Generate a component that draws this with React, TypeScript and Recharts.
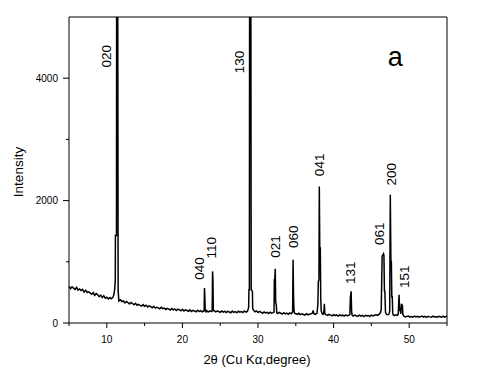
import React from "react";
import {
  ComposedChart,
  Line,
  Scatter,
  XAxis,
  YAxis,
  ReferenceLine,
} from "recharts";

// XRD scan, [2θ, intensity], split by region
const scanLowAngle: [number, number][] = [
  [5.0, 600], [5.2, 560], [5.4, 592], [5.6, 570], [5.8, 548], [6.0, 582], [6.2, 536],
  [6.4, 556], [6.6, 530], [6.8, 548], [7.0, 505], [7.2, 536], [7.4, 498], [7.6, 510],
  [7.8, 492], [8.0, 470], [8.2, 498], [8.4, 452], [8.6, 480], [8.8, 462], [9.0, 430],
  [9.2, 456], [9.4, 418], [9.6, 446], [9.8, 405], [10.0, 420], [10.2, 392], [10.4, 415],
  [10.6, 396], [10.8, 418], [10.95, 470], [11.05, 560], [11.12, 700],
];

const peak020: [number, number][] = [
  [11.14, 1430], [11.28, 1430], [11.31, 7000], [11.43, 7000], [11.5, 520], [11.6, 360],
];

const scanMid: [number, number][] = [
  [11.8, 380], [12.0, 350], [12.2, 360], [12.4, 328], [12.6, 352], [12.8, 334], [13.0, 310],
  [13.2, 336], [13.4, 318], [13.6, 298], [13.8, 322], [14.0, 290], [14.2, 304], [14.4, 288],
  [14.6, 276], [14.8, 300], [15.0, 272], [15.2, 290], [15.4, 262], [15.6, 280], [15.8, 268],
  [16.0, 250], [16.2, 272], [16.4, 244], [16.6, 258], [16.8, 248], [17.0, 232], [17.2, 256],
  [17.4, 234], [17.6, 244], [17.8, 222], [18.0, 240], [18.2, 226], [18.4, 212], [18.6, 238],
  [18.8, 216], [19.0, 228], [19.2, 206], [19.4, 226], [19.6, 214], [19.8, 200], [20.0, 224],
  [20.2, 198], [20.4, 216], [20.6, 204], [20.8, 192], [21.0, 214], [21.2, 188], [21.4, 206],
  [21.6, 196], [21.8, 184], [22.0, 208], [22.2, 186], [22.4, 202], [22.6, 182], [22.8, 196],
  [22.88, 200], [22.92, 571], [22.97, 420], [23.02, 200], [23.1, 184],
  [23.2, 204], [23.4, 180], [23.6, 198], [23.8, 186],
  [23.94, 200], [23.99, 843], [24.04, 707], [24.09, 200],
  [24.2, 204], [24.4, 182], [24.6, 196], [24.8, 188], [25.0, 174], [25.2, 198], [25.4, 178],
  [25.6, 192], [25.8, 170], [26.0, 190], [26.2, 180], [26.4, 168], [26.6, 194], [26.8, 174],
  [27.0, 186], [27.2, 168], [27.4, 192], [27.6, 176], [27.8, 186], [28.0, 170], [28.2, 196],
  [28.4, 178], [28.6, 190], [28.76, 250],
];

const peak130: [number, number][] = [
  [28.8, 544], [28.86, 544], [28.9, 7000], [29.04, 7000], [29.1, 544], [29.26, 520], [29.3, 240],
];

const scanHighAngle: [number, number][] = [
  [29.4, 210], [29.6, 184], [29.8, 198], [30.0, 172], [30.2, 190], [30.4, 176], [30.6, 160],
  [30.8, 180], [31.0, 164], [31.2, 174], [31.4, 156], [31.6, 178], [31.8, 162], [32.0, 170],
  [32.12, 180], [32.16, 707], [32.22, 707], [32.28, 887], [32.34, 330], [32.42, 300], [32.48, 170],
  [32.6, 154], [32.8, 172], [33.0, 160], [33.2, 146], [33.4, 168], [33.6, 150], [33.8, 162],
  [34.0, 144], [34.2, 164], [34.4, 150], [34.58, 180], [34.64, 1034], [34.7, 430], [34.76, 200],
  [34.84, 160], [35.0, 150], [35.2, 140], [35.4, 158], [35.6, 136], [35.8, 150], [36.0, 140],
  [36.2, 130], [36.4, 152], [36.6, 134], [36.8, 144], [37.0, 150], [37.2, 160], [37.3, 205],
  [37.4, 150], [37.6, 140], [37.8, 160], [37.92, 300],
  [37.98, 680], [38.06, 700], [38.11, 2230], [38.17, 1224], [38.24, 1224], [38.3, 400],
  [38.36, 200], [38.5, 150], [38.6, 140], [38.7, 160], [38.78, 315], [38.84, 150],
  [39.0, 136], [39.2, 124], [39.4, 142], [39.6, 128], [39.8, 118], [40.0, 138], [40.2, 122],
  [40.4, 132], [40.6, 114], [40.8, 134], [41.0, 120], [41.2, 128], [41.4, 112], [41.6, 132],
  [41.8, 118], [42.0, 126], [42.15, 140], [42.22, 420], [42.28, 480], [42.32, 517],
  [42.38, 200], [42.44, 130], [42.6, 114], [42.8, 130], [43.0, 118], [43.2, 108], [43.4, 128],
  [43.6, 112], [43.8, 124], [44.0, 106], [44.2, 126], [44.4, 114], [44.6, 122], [44.8, 108],
  [45.0, 128], [45.2, 116], [45.4, 126], [45.6, 134], [45.8, 124], [46.0, 140], [46.2, 170],
  [46.3, 220], [46.42, 1090], [46.5, 1110], [46.6, 1131], [46.66, 1100], [46.72, 525],
  [46.78, 520], [46.86, 180], [47.0, 140], [47.2, 135], [47.35, 150], [47.42, 200],
  [47.5, 2095], [47.58, 1006], [47.64, 1006], [47.7, 430], [47.76, 430], [47.82, 160],
  [47.9, 130], [48.0, 120], [48.2, 135], [48.4, 125], [48.55, 140], [48.6, 300], [48.66, 462],
  [48.72, 200], [48.8, 220], [48.9, 150], [48.96, 315], [49.04, 240], [49.1, 300], [49.16, 140],
  [49.3, 112], [49.5, 98], [49.7, 108], [49.9, 114], [50.1, 96], [50.3, 106], [50.5, 94],
  [50.7, 112], [50.9, 100], [51.1, 110], [51.3, 94], [51.5, 104], [51.7, 114], [51.9, 96],
  [52.1, 108], [52.3, 92], [52.5, 110], [52.7, 100], [52.9, 94], [53.1, 112], [53.3, 98],
  [53.5, 106], [53.7, 92], [53.9, 110], [54.1, 102], [54.3, 94], [54.5, 112], [54.7, 96],
  [54.9, 108], [55.0, 100],
];

// Miller indices and where their labels sit (2θ, intensity at label centre)
const peakIndices = ["020", "130", "040", "110", "021", "060", "041", "131", "061", "200", "151"];
const labelAngles = [9.95, 27.62, 22.31, 23.91, 32.32, 34.68, 38.08, 42.25, 46.09, 47.66, 49.4];
const labelHeights = [4360, 4266, 889, 1230, 1251, 1409, 2584, 821, 1458, 2429, 756];

const xTicks = [5, 10, 15, 20, 25, 30, 35, 40, 45, 50, 55];
const yTicks = [0, 1000, 2000, 3000, 4000];

const FONT = "'Liberation Sans', Arial, sans-serif";

const scan = [...scanLowAngle, ...peak020, ...scanMid, ...peak130, ...scanHighAngle].map(
  ([t, v]) => ({ t, v })
);
const labels = peakIndices.map((name, i) => ({ t: labelAngles[i], v: labelHeights[i], name }));
const panelTag = [{ t: 48.17, v: 4201, name: "a" }];

function XTick({ x, y, payload }: any) {
  const major = payload.value % 10 === 0;
  return (
    <g>
      <line x1={x} y1={y} x2={x} y2={y + (major ? 5 : 3)} stroke="#000" />
      {major && (
        <text x={x} y={y + 20} textAnchor="middle" fontSize={10} fontFamily={FONT} fill="#000">
          {payload.value}
        </text>
      )}
    </g>
  );
}

function YTick({ x, y, payload }: any) {
  const major = payload.value % 2000 === 0;
  return (
    <g>
      <line x1={x} y1={y} x2={x - (major ? 6 : 3)} y2={y} stroke="#000" />
      {major && (
        <text x={x - 11} y={y + 3.5} textAnchor="end" fontSize={10} fontFamily={FONT} fill="#000">
          {payload.value}
        </text>
      )}
    </g>
  );
}

export default function App() {
  return (
    <div style={{ position: "absolute", left: 0, top: 0, width: 500, height: 380, background: "#fff" }}>
      <ComposedChart
        width={500}
        height={380}
        data={scan}
        margin={{ top: 17, right: 53, bottom: 0, left: 0 }}
      >
        <XAxis
          dataKey="t"
          type="number"
          domain={[5, 55]}
          ticks={xTicks}
          interval={0}
          height={57}
          tickSize={0}
          tickMargin={0}
          tickLine={false}
          tick={<XTick />}
          axisLine={{ stroke: "#000" }}
          label={{
            content: ({ viewBox }: any) => (
              <text
                x={viewBox.x + viewBox.width / 2 - 1}
                y={viewBox.y + 41}
                textAnchor="middle"
                fontSize={13}
                fontFamily={FONT}
                fill="#000"
              >
                2θ (Cu Kα,degree)
              </text>
            ),
          }}
        />
        <YAxis
          type="number"
          domain={[0, 5000]}
          allowDataOverflow
          ticks={yTicks}
          interval={0}
          width={69}
          tickSize={0}
          tickMargin={0}
          tickLine={false}
          tick={<YTick />}
          axisLine={{ stroke: "#000" }}
          label={{
            content: ({ viewBox }: any) => {
              const cx = 18.5;
              const cy = viewBox.y + viewBox.height / 2 + 2;
              return (
                <text
                  x={cx}
                  y={cy}
                  transform={`rotate(-90 ${cx} ${cy})`}
                  textAnchor="middle"
                  dominantBaseline="central"
                  fontSize={13.5}
                  fontFamily={FONT}
                  fill="#000"
                >
                  Intensity
                </text>
              );
            },
          }}
        />
        <ReferenceLine y={5000} stroke="#000" />
        <ReferenceLine x={55} stroke="#000" />
        <Line
          dataKey="v"
          type="linear"
          stroke="#000"
          strokeWidth={1.5}
          dot={false}
          isAnimationActive={false}
        />
        <Scatter
          data={labels}
          dataKey="v"
          isAnimationActive={false}
          shape={(p: any) => (
            <text
              x={p.cx}
              y={p.cy}
              transform={`rotate(-90 ${p.cx} ${p.cy})`}
              textAnchor="middle"
              dominantBaseline="central"
              fontSize={13.5}
              fontFamily={FONT}
              fill="#000"
            >
              {p.payload.name}
            </text>
          )}
        />
        <Scatter
          data={panelTag}
          dataKey="v"
          isAnimationActive={false}
          shape={(p: any) => (
            <text x={p.cx} y={p.cy} textAnchor="middle" fontSize={27} fontFamily={FONT} fill="#000">
              {p.payload.name}
            </text>
          )}
        />
      </ComposedChart>
    </div>
  );
}
